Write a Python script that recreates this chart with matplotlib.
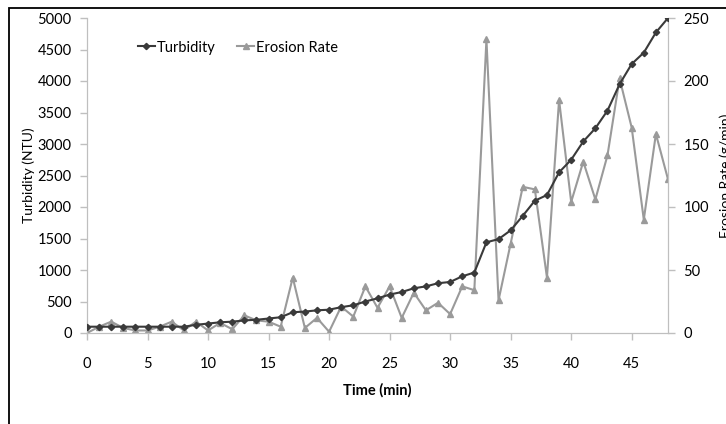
import matplotlib
matplotlib.use("Agg")
import matplotlib.pyplot as plt
from matplotlib.patches import Rectangle

# data
time_min = list(range(49))
turbidity = [100, 100, 100, 100, 100, 100, 100, 100, 100, 130,
             150, 170, 180, 200, 210, 230, 250, 330, 340, 360,
             370, 410, 440, 500, 550, 610, 650, 710, 740, 790,
             810, 900, 960, 1440, 1490, 1630, 1860, 2100, 2190, 2550,
             2750, 3040, 3250, 3530, 3950, 4270, 4450, 4770, 5000]
erosion_rate = [0, 5, 9, 4, 2, 2, 5, 9, 2, 9,
                2, 8, 3, 14, 10, 9, 5, 44, 4, 12,
                1, 21, 13, 37, 20, 37, 12, 32, 18, 24,
                15, 37, 34, 233, 26, 71, 116, 114, 44, 185,
                104, 136, 106, 141, 202, 163, 90, 158, 122]
x_ticks = [0, 5, 10, 15, 20, 25, 30, 35, 40, 45]
left_ticks = [0, 500, 1000, 1500, 2000, 2500, 3000, 3500, 4000, 4500, 5000]
right_ticks = [0, 50, 100, 150, 200, 250]

plt.rcParams['font.family'] = ['Lato', 'DejaVu Sans']

axis_grey = '#bfbfbf'
turb_col = '#3a3a3a'
eros_col = '#9a9a9a'

fig = plt.figure(figsize=(7.26, 4.24), dpi=100)
ax = fig.add_axes([87 / 726, 1 - 333 / 424, (668 - 87) / 726, (333 - 18) / 424])
ax2 = ax.twinx()

# frame around the chart (only top and left show in the crop)
top = 1 - 7.5 / 424
fig.add_artist(Rectangle((8.5 / 726, -0.2), 1.5, top + 0.2,
                         transform=fig.transFigure, fill=False,
                         edgecolor='black', linewidth=1.3))

ax2.plot(time_min, erosion_rate, color=eros_col, linewidth=1.5,
         marker='^', markersize=5, label='Erosion Rate', zorder=2)
ax.plot(time_min, turbidity, color=turb_col, linewidth=1.5,
        marker='D', markersize=3.2, label='Turbidity', zorder=3)
ax.set_zorder(ax2.get_zorder() + 1)
ax.patch.set_visible(False)

ax.set_xlim(0, 48)
ax.set_ylim(0, 5000)
ax2.set_ylim(0, 250)
ax.set_xticks(x_ticks)
ax.set_yticks(left_ticks)
ax2.set_yticks(right_ticks)

for a in (ax, ax2):
    for side in a.spines:
        a.spines[side].set_color(axis_grey)
    a.spines['top'].set_visible(False)
    a.tick_params(colors=axis_grey, labelcolor='black', labelsize=10.5,
                  length=5, width=1)
ax.tick_params(axis='x', pad=12)
ax.tick_params(axis='y', pad=6)
ax2.tick_params(axis='y', pad=6)

ax.set_ylabel('Turbidity (NTU)', fontsize=10, labelpad=2)
ax.set_xlabel('Time (min)', fontsize=10.5, fontweight='bold', labelpad=9)
fig.text(719 / 726, 0.585, 'Erosion Rate (g/min)', rotation=90,
         ha='left', va='center', fontsize=10)

h1, l1 = ax.get_legend_handles_labels()
h2, l2 = ax2.get_legend_handles_labels()
ax.legend(h1 + h2, l1 + l2, loc='upper left', bbox_to_anchor=(0.065, 0.97),
          frameon=False, ncol=2, fontsize=10.5, handlelength=1.15,
          handletextpad=0.15, columnspacing=1.5)

fig.savefig('out.png', dpi=100)
plt.close(fig)
